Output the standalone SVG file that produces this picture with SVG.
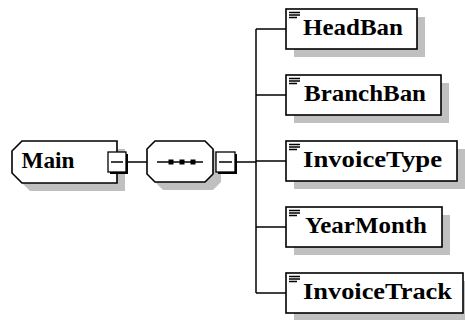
<svg xmlns="http://www.w3.org/2000/svg" width="465" height="320" viewBox="0 0 465 320">
<style>
.shadow{fill:#c0c0c0;stroke:none}
.box{fill:#fff;stroke:#000;stroke-width:1.6}
.line{fill:none;stroke:#000;stroke-width:1.5}
.lbl{font-family:"Liberation Serif","Times New Roman",serif;font-weight:bold;font-size:23px;fill:#000}
.mbox{fill:#fff;stroke:#000;stroke-width:1.3}
.mshadow{fill:#000}
.dot{fill:#000}
</style>
<rect width="465" height="320" fill="#fff"/>
<g id="connectors">
<line class="line" x1="126" y1="162" x2="147" y2="162"/>
<line class="line" x1="236" y1="162" x2="256" y2="162"/>
<line class="line" x1="256" y1="29" x2="256" y2="293"/>
<line class="line" x1="256" y1="29" x2="286" y2="29"/>
<line class="line" x1="256" y1="95" x2="286" y2="95"/>
<line class="line" x1="256" y1="161" x2="286" y2="161"/>
<line class="line" x1="256" y1="227" x2="286" y2="227"/>
<line class="line" x1="256" y1="293" x2="286" y2="293"/>
</g>
<g id="main">
<polygon class="shadow" points="30,149 125,149 125,191 30,191 20,181 20,159"/>
<polygon class="box" points="22,141 117,141 117,183 22,183 12,173 12,151"/>
<text class="lbl" x="21.5" y="168" textLength="53" lengthAdjust="spacingAndGlyphs">Main</text>
<rect class="mshadow" x="110" y="154" width="18" height="20"/>
<rect class="mbox" x="108" y="152" width="18" height="20"/>
<line class="line" x1="111" y1="162" x2="123" y2="162"/>
</g>
<g id="sequence">
<polygon class="shadow" points="163,149 213,149 221,157 221,182 213,190 163,190 155,182 155,157"/>
<polygon class="box" points="155,141 205,141 213,149 213,174 205,182 155,182 147,174 147,149"/>
<line class="line" x1="157" y1="162" x2="203" y2="162"/>
<rect class="dot" x="168.5" y="159.5" width="5" height="5"/>
<rect class="dot" x="179.5" y="159.5" width="5" height="5"/>
<rect class="dot" x="190.5" y="159.5" width="5" height="5"/>
<rect class="mshadow" x="218" y="154" width="19" height="20"/>
<rect class="mbox" x="216" y="152" width="19" height="20"/>
<line class="line" x1="219" y1="162" x2="232" y2="162"/>
</g>
<g id="HeadBan">
<rect class="shadow" x="294" y="17" width="131" height="40"/>
<rect class="box" x="286" y="9" width="131" height="40"/>
<path class="line" d="M289 12.5h11M289 15h11M289 17.5h8"/>
<text class="lbl" x="303" y="35" textLength="100" lengthAdjust="spacingAndGlyphs">HeadBan</text>
</g>
<g id="BranchBan">
<rect class="shadow" x="294" y="83" width="155" height="40"/>
<rect class="box" x="286" y="75" width="155" height="40"/>
<path class="line" d="M289 78.5h11M289 81h11M289 83.5h8"/>
<text class="lbl" x="304" y="101" textLength="122" lengthAdjust="spacingAndGlyphs">BranchBan</text>
</g>
<g id="InvoiceType">
<rect class="shadow" x="294" y="149" width="171" height="40"/>
<rect class="box" x="286" y="141" width="171" height="40"/>
<path class="line" d="M289 144.5h11M289 147h11M289 149.5h8"/>
<text class="lbl" x="303" y="167" textLength="139" lengthAdjust="spacingAndGlyphs">InvoiceType</text>
</g>
<g id="YearMonth">
<rect class="shadow" x="294" y="215" width="156" height="40"/>
<rect class="box" x="286" y="207" width="156" height="40"/>
<path class="line" d="M289 210.5h11M289 213h11M289 215.5h8"/>
<text class="lbl" x="305" y="233" textLength="122" lengthAdjust="spacingAndGlyphs">YearMonth</text>
</g>
<g id="InvoiceTrack">
<rect class="shadow" x="294" y="281" width="177" height="40"/>
<rect class="box" x="286" y="273" width="177" height="40"/>
<path class="line" d="M289 276.5h11M289 279h11M289 281.5h8"/>
<text class="lbl" x="303" y="299" textLength="149" lengthAdjust="spacingAndGlyphs">InvoiceTrack</text>
</g>
</svg>
